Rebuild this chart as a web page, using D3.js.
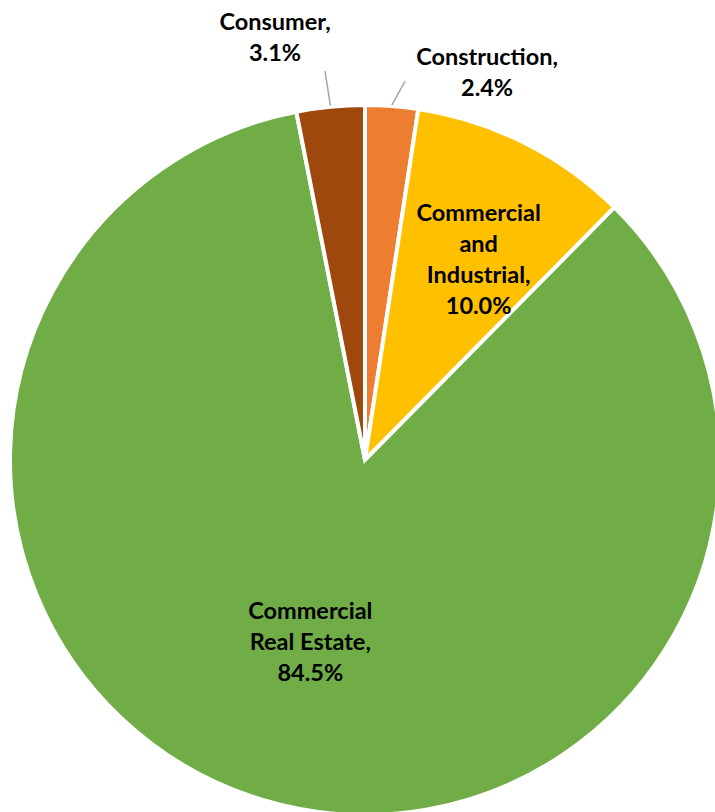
<!DOCTYPE html>
<html lang="en">
<head>
<meta charset="utf-8">
<title>loan mix pie</title>
<script src="https://d3js.org/d3.v7.min.js"></script>
<style>
  body { margin: 0; background: #fff; }
  text { font-family: Lato, "Open Sans", sans-serif; font-weight: bold; font-size: 23.5px; fill: #000; }
</style>
</head>
<body>
<script>
// data, clockwise from 12 o'clock
var categories = ["Construction", "Commercial and Industrial", "Commercial Real Estate", "Consumer"];
var shares = [2.4, 10.0, 84.5, 3.1];
var colors = ["#ED7D31", "#FFC000", "#70AD47", "#9E480E"];
// how each label is split into lines
var labelLines = [
  ["Construction,", "2.4%"],
  ["Commercial", "and", "Industrial,", "10.0%"],
  ["Commercial", "Real Estate,", "84.5%"],
  ["Consumer,", "3.1%"]
];

var width = 715, height = 812;
var cx = 365, cy = 460, R = 355;
var lineH = 31;

var svg = d3.select("body").append("svg")
    .attr("width", width)
    .attr("height", height);

var g = svg.append("g").attr("transform", "translate(" + cx + "," + cy + ")");

var pie = d3.pie().sort(null).value(function(d) { return d; });
var arcs = pie(shares);
var arc = d3.arc().innerRadius(0).outerRadius(R);

g.selectAll("path.slice")
    .data(arcs)
    .enter().append("path")
    .attr("class", "slice")
    .attr("d", arc)
    .style("fill", function(d, i) { return colors[i]; })
    .style("stroke", "#fff")
    .style("stroke-width", 4)
    .style("stroke-linejoin", "miter");

function mid(d) { return (d.startAngle + d.endAngle) / 2; }
function polar(a, r) { return [r * Math.sin(a), -r * Math.cos(a)]; }

// inside labels (big slices): radius factor and small angle nudge
var inside = {1: [0.65, 0.05], 2: [0.535, 0.0]};
arcs.forEach(function(d, i) {
  var lines = labelLines[i];
  var pos;
  if (inside[i]) {
    pos = polar(mid(d) + inside[i][1], R * inside[i][0]);
  } else {
    // leader line out of the slice
    var p0 = polar(mid(d), R + 1);
    var p1 = i == 0 ? polar(mid(d) + 0.03, R + 26) : polar(mid(d) - 0.005, R + 36);
    g.append("line")
      .attr("x1", p0[0]).attr("y1", p0[1])
      .attr("x2", p1[0]).attr("y2", p1[1])
      .style("stroke", "#A6A6A6").style("stroke-width", 1.5);
    if (i == 0) pos = [p1[0] + 82, p1[1] - 9];
    else pos = [p1[0] - 50, p1[1] - 34];
  }
  var t = g.append("text")
    .attr("text-anchor", "middle")
    .attr("x", pos[0])
    .attr("y", pos[1] - (lines.length - 1) * lineH / 2 + 8);
  lines.forEach(function(s, k) {
    t.append("tspan")
      .attr("x", pos[0])
      .attr("dy", k == 0 ? 0 : lineH)
      .text(s);
  });
});
</script>
</body>
</html>
